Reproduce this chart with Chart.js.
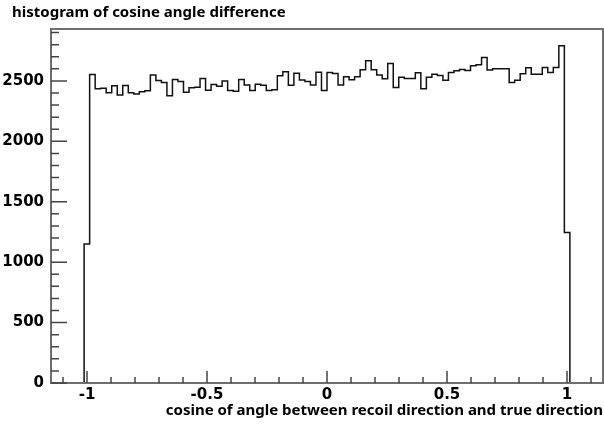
<!DOCTYPE html>
<html>
<head>
<meta charset="utf-8">
<script src="https://cdn.jsdelivr.net/npm/chart.js@4.4.1/dist/chart.umd.min.js"></script>
<style>
  body { margin: 0; background: #fff; }
</style>
</head>
<body>
<canvas id="histo" width="604" height="424"></canvas>
<script>
// histogram setup
const chartTitle = "histogram of cosine angle difference";
const xTitle = "cosine of angle between recoil direction and true direction";
const xLow = -1.15, xHigh = 1.15, nBins = 100;
const yMax = 2930;
const xTickLabels = [-1, -0.5, 0, 0.5, 1];
const yTickLabels = [0, 500, 1000, 1500, 2000, 2500];

// bin contents, 100 bins
const binCounts = [
  0, 0, 0, 0, 0, 0, 1150, 2553, 2435, 2440,
  2402, 2460, 2383, 2463, 2402, 2391, 2410, 2418, 2550, 2504,
  2488, 2377, 2513, 2495, 2407, 2444, 2448, 2520, 2424, 2470,
  2457, 2500, 2420, 2415, 2513, 2466, 2422, 2472, 2465, 2422,
  2427, 2544, 2576, 2464, 2563, 2508, 2495, 2467, 2571, 2422,
  2570, 2562, 2467, 2535, 2510, 2535, 2593, 2667, 2593, 2549,
  2518, 2645, 2446, 2530, 2521, 2521, 2568, 2436, 2530, 2555,
  2545, 2505, 2570, 2585, 2595, 2587, 2625, 2635, 2694, 2590,
  2600, 2600, 2600, 2487, 2505, 2560, 2610, 2556, 2556, 2612,
  2570, 2612, 2792, 1245, 0, 0, 0, 0, 0, 0
];

const binWidth = (xHigh - xLow) / nBins;
const points = binCounts.map((c, i) => ({ x: xLow + i * binWidth, y: c }));
points.push({ x: xHigh, y: binCounts[binCounts.length - 1] });

const tickFont = { family: "'DejaVu Sans'", size: 15, weight: "bold" };
const textFont = { family: "'Noto Sans'", size: 15, weight: "bold" };

// ROOT style frame + inward ticks + title
const rootFrame = {
  id: "rootFrame",
  afterDatasetsDraw(chart) {
    const { ctx, chartArea: { left, right, top, bottom }, scales: { x, y } } = chart;
    ctx.save();
    ctx.strokeStyle = "#6e6e6e";
    ctx.lineWidth = 2;
    ctx.strokeRect(left, top, right - left, bottom - top);

    ctx.strokeStyle = "#444";
    ctx.lineWidth = 1.5;
    ctx.beginPath();
    for (let k = -11; k <= 11; k++) {
      const px = x.getPixelForValue(k / 10);
      const len = k % 5 === 0 ? 12 : 6;
      ctx.moveTo(px, bottom);
      ctx.lineTo(px, bottom - len);
    }
    for (let v = 0; v <= yMax; v += 100) {
      const py = y.getPixelForValue(v);
      const len = v % 500 === 0 ? 16 : 8;
      ctx.moveTo(left, py);
      ctx.lineTo(left + len, py);
    }
    ctx.stroke();

    ctx.fillStyle = "#000";
    ctx.font = "bold 15px 'Noto Sans'";
    ctx.textBaseline = "middle";
    ctx.textAlign = "left";
    ctx.fillText(chartTitle, 12, 13);
    ctx.restore();
  }
};

new Chart(document.getElementById("histo"), {
  type: "line",
  data: {
    datasets: [{
      data: points,
      stepped: true,
      borderColor: "#111",
      borderWidth: 1.5,
      pointRadius: 0,
      fill: false
    }]
  },
  options: {
    responsive: false,
    animation: false,
    devicePixelRatio: 1,
    layout: { padding: { top: 29, right: 1, left: 0, bottom: 0 } },
    plugins: { legend: { display: false }, tooltip: { enabled: false } },
    scales: {
      x: {
        type: "linear",
        min: xLow,
        max: xHigh,
        grid: { display: false, drawTicks: false },
        border: { display: false },
        afterBuildTicks: s => { s.ticks = xTickLabels.map(v => ({ value: v })); },
        afterFit: s => { s.height = 41; },
        ticks: {
          font: tickFont, color: "#000", padding: 3,
          autoSkip: false, maxRotation: 0,
          callback: v => String(v)
        },
        title: {
          display: true, text: xTitle, align: "end",
          font: textFont, color: "#000", padding: { top: 0, bottom: 4 }
        }
      },
      y: {
        min: 0,
        max: yMax,
        grid: { display: false, drawTicks: false },
        border: { display: false },
        afterBuildTicks: s => { s.ticks = yTickLabels.map(v => ({ value: v })); },
        afterFit: s => { s.width = 51; },
        ticks: { font: tickFont, color: "#000", padding: 7, callback: v => String(v) }
      }
    }
  },
  plugins: [rootFrame]
});
</script>
</body>
</html>
